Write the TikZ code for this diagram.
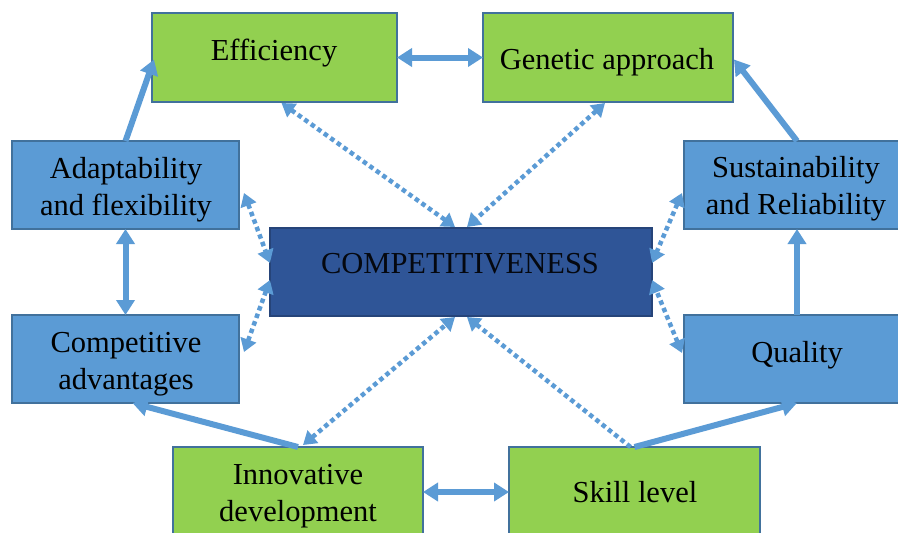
\documentclass[tikz,border=0pt]{standalone}
\usepackage{fontspec}
\setmainfont{Liberation Serif}
\usetikzlibrary{arrows.meta,calc}
\definecolor{grfill}{HTML}{92D050}
\definecolor{lbfill}{HTML}{5B9BD5}
\definecolor{dbfill}{HTML}{2F5597}
\definecolor{bdcol}{HTML}{41719C}
\definecolor{arcol}{HTML}{5B9BD5}
\begin{document}
\begin{tikzpicture}[x=1pt,y=-1pt,
  boxbase/.style={draw=bdcol, line width=1.5pt, inner sep=0pt, outer sep=0pt, rectangle},
  gbox/.style={boxbase, fill=grfill},
  lbox/.style={boxbase, fill=lbfill},
  dbox/.style={boxbase, fill=dbfill, draw=dbfill!80!black},
  txt/.style={font=\fontsize{30.5}{37}\selectfont, align=center, inner sep=0pt, text=black},
  solidarrow/.style={draw=arcol, line width=6pt, -{Triangle[length=15pt,width=18pt]}},
  solidboth/.style={solidarrow, {Triangle[length=15pt,width=18pt]}-{Triangle[length=15pt,width=18pt]}},
  dotarrow/.style={draw=arcol, line width=4.5pt, dash pattern=on 4.5pt off 3.5pt, -{Triangle[length=13pt,width=16pt]}},
  dotboth/.style={dotarrow, {Triangle[length=13pt,width=16pt]}-{Triangle[length=13pt,width=16pt]}}
]
\useasboundingbox (0,0) rectangle (898,533);
\fill[white] (0,0) rectangle (898,533);

% boxes
\node[gbox, minimum width=245pt, minimum height=89pt] (eff) at (274.5,57.5) {};
\node[gbox, minimum width=250pt, minimum height=89pt] (gen) at (608,57.5) {};
\node[lbox, minimum width=227pt, minimum height=88pt] (ada) at (125.5,185) {};
\node[lbox, minimum width=226pt, minimum height=88pt] (sus) at (797,185) {};
\node[dbox, minimum width=382pt, minimum height=88pt] (comp) at (461,272) {};
\node[lbox, minimum width=227pt, minimum height=88pt] (adv) at (125.5,359) {};
\node[lbox, minimum width=226pt, minimum height=88pt] (qual) at (797,359) {};
\node[gbox, minimum width=250pt, minimum height=90pt] (inn) at (298,492) {};
\node[gbox, minimum width=251pt, minimum height=90pt] (skill) at (634.5,492) {};

% texts
\node[txt] (efft) at (274,53) {Efficiency};
\node[txt] (gent) at (607,62.5) {Genetic approach};
\node[txt] (adat) at (126,190) {Adaptability\\and flexibility};
\node[txt] (sust) at (796,189) {Sustainability\\and Reliability};
\node[txt, text=black!90!dbfill] (compt) at (460,264) {COMPETITIVENESS};
\node[txt] (advt) at (126,364) {Competitive\\advantages};
\node[txt] (qualt) at (797,355) {Quality};
\node[txt] (innt) at (298,496.5) {Innovative\\development};
\node[txt] (skillt) at (635,492) {Skill level};

% solid arrows
\draw[solidboth] (eff.east) -- (gen.west);
\draw[solidarrow] (ada.north) -- ($(eff.west)+(2,2)$);
\draw[solidboth] (ada.south) -- (adv.north);
\draw[solidarrow] (inn.north) -- ($(adv.south)+(7,0)$);
\draw[solidarrow] (skill.north) -- (qual.south);
\draw[solidarrow] (qual.north) -- (sus.south);
\draw[solidarrow] (sus.north) -- ($(gen.east)+(1,2)$);
\draw[solidboth] (inn.east) -- (skill.west);

% dotted arrows
\draw[dotboth] ($(eff.south)+(7,1)$) -- ($(comp.north)+(-6,-1)$);
\draw[dotboth] ($(gen.south)+(-3,1)$) -- ($(comp.north)+(6,-1)$);
\draw[dotboth] ($(ada.east)+(5,8)$) -- ($(comp.west)+(0,-9)$);
\draw[dotboth] ($(adv.east)+(5,-7)$) -- ($(comp.west)+(0,8)$);
\draw[dotboth] ($(inn.north)+(5,-2)$) -- ($(comp.south)+(-6,1)$);
\draw[dotarrow] ($(skill.north)+(-4,0)$) -- ($(comp.south)+(6,1)$);
\draw[dotboth] ($(sus.west)+(-2,8)$) -- ($(comp.east)+(0,-9)$);
\draw[dotboth] ($(qual.west)+(-2,-6)$) -- ($(comp.east)+(0,8)$);
\end{tikzpicture}
\end{document}
